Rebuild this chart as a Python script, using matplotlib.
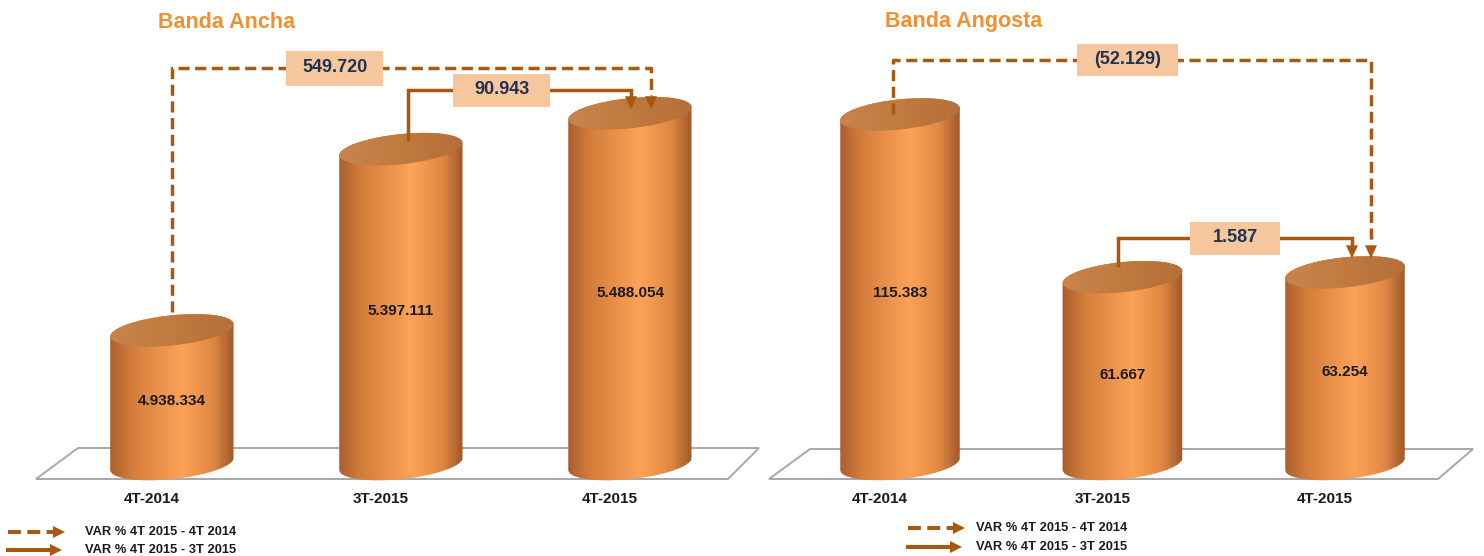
import numpy as np
import matplotlib
matplotlib.use("Agg")
import matplotlib.pyplot as plt
from matplotlib.patches import Polygon, Ellipse, Rectangle
from matplotlib.lines import Line2D
from matplotlib.transforms import IdentityTransform
from matplotlib.colors import LinearSegmentedColormap

W, H, DPI = 1484, 556, 100

# ----------------------------
# Data
# ----------------------------
categories = ["4T-2014", "3T-2015", "4T-2015"]
banda_ancha = [4938334, 5397111, 5488054]
banda_angosta = [115383, 61667, 63254]
titles = ["Banda Ancha", "Banda Angosta"]
legend_labels = ["VAR % 4T 2015 - 4T 2014", "VAR % 4T 2015 - 3T 2015"]

# ----------------------------
# Style
# ----------------------------
TITLE_COLOR = "#F0902F"
ARROW_COLOR = "#A9580F"
BOX_COLOR = "#F6C69C"
BOX_TEXT = "#1F3251"
FLOOR_EDGE = "#A8A8A8"
FONT = ["Liberation Sans", "DejaVu Sans"]
BAR_W = 0.54          # in category units
TOP_B = 15            # half minor axis of the cylinder ellipses, px
TILT = 6              # degrees
LW = 2.5

body_cmap = LinearSegmentedColormap.from_list(
    "body", [(0, "#A65A2B"), (0.18, "#D27C3A"), (0.58, "#FCA257"),
             (0.82, "#E08843"), (1, "#9A5327")])
top_cmap = LinearSegmentedColormap.from_list(
    "top", ["#C8844C", "#C07A3F", "#B46E37"])

ID = IdentityTransform()

# layout per panel (pixels, rows counted from the top of the image)
panels = [
    dict(values=banda_ancha, left=57.5, base=464, width=687, height=434,
         ymin=4.6e6, px_per_unit=395 / 1e6, title_x=227,
         floor=[(78, 448), (759, 448), (728, 479), (36, 479)],
         dashed=dict(y=68, dx0=0, dx1=21, start=18, tip=4, frac=0.34, bw=97, bh=35),
         solid=dict(y=90, dx0=7, dx1=1, start=10, tip=4, frac=0.42, bw=97, bh=33),
         legend=dict(x0=8, xt=85, y_dash=532, y_solid=550)),
    dict(values=banda_angosta, left=788.75, base=464, width=667.5, height=434,
         ymin=0, px_per_unit=3.03 / 1e3, title_x=964,
         floor=[(810, 449), (1473, 449), (1438, 479), (769, 479)],
         dashed=dict(y=60, dx0=-7, dx1=26, start=0, tip=14, frac=0.49, bw=101, bh=32),
         solid=dict(y=238, dx0=-4, dx1=7, start=12, tip=14, frac=0.5, bw=90, bh=33),
         legend=dict(x0=908, xt=976, y_dash=528, y_solid=547)),
]


def fmt(v):
    s = f"{abs(v):,}".replace(",", ".")
    return f"({s})" if v < 0 else s


def row(y):
    return H - y


def ellipse_pts(cx, cy, a, b, t):
    th = np.radians(TILT)
    x = cx + a * np.cos(t) * np.cos(th) - b * np.sin(t) * np.sin(th)
    y = cy + a * np.cos(t) * np.sin(th) + b * np.sin(t) * np.cos(th)
    return np.column_stack([x, y])


def gradient_fill(fig, clip, x0, x1, y0, y1, cmap, z, n=70):
    dx = (x1 - x0) / n
    for k in range(n):
        r = Rectangle((x0 + k * dx, y0), dx + 0.8, y1 - y0, transform=ID,
                      facecolor=cmap((k + 0.5) / n), edgecolor="none", zorder=z)
        r.set_clip_path(clip)
        fig.add_artist(r)


def draw_cylinder(fig, ax, i, v, ymin):
    cx, top = ax.transData.transform((i, v))
    _, base = ax.transData.transform((i, ymin))
    xl, _ = ax.transData.transform((i - BAR_W / 2, v))
    a = cx - xl
    b = TOP_B
    lower = ellipse_pts(cx, base, a, b, np.linspace(np.pi, 2 * np.pi, 60))
    upper = ellipse_pts(cx, top, a, b, np.linspace(0, np.pi, 60))
    body = Polygon(np.vstack([lower, upper]), closed=True, transform=ID,
                   facecolor="none", edgecolor="none")
    gradient_fill(fig, body, cx - a - 2, cx + a + 2, base - 3 * b, top + 3 * b,
                  body_cmap, 2)
    cap = Ellipse((cx, top), 2 * a, 2 * b, angle=TILT, transform=ID,
                  facecolor="none", edgecolor="none")
    gradient_fill(fig, cap, cx - a - 2, cx + a + 2, top - 2 * b, top + 3 * b,
                  top_cmap, 3, n=40)
    return cx, top, base


def draw_head(fig, x, y_tip, z=5, hl=13, hw=6, horizontal=False):
    if horizontal:
        pts = [(x - hl, y_tip + hw), (x - hl, y_tip - hw), (x, y_tip)]
    else:
        pts = [(x - hw, y_tip + hl), (x + hw, y_tip + hl), (x, y_tip)]
    fig.add_artist(Polygon(pts, closed=True, transform=ID, facecolor=ARROW_COLOR,
                           edgecolor="none", zorder=z))


def draw_connector(fig, ax, vals, i_from, i_to, spec, dashed):
    cxf, topf = ax.transData.transform((i_from, vals[i_from]))
    cxt, topt = ax.transData.transform((i_to, vals[i_to]))
    xa, ya = cxf + spec["dx0"], topf + spec["start"]
    xb, yt = cxt + spec["dx1"], topt + spec["tip"]
    yl = row(spec["y"])
    hl = 13
    ls = (0, (3.2, 1.6)) if dashed else "-"
    fig.add_artist(Line2D([xa, xa, xb, xb], [ya, yl, yl, yt + hl], transform=ID,
                          color=ARROW_COLOR, lw=LW, linestyle=ls,
                          solid_joinstyle="miter", dash_capstyle="butt", zorder=4))
    draw_head(fig, xb, yt, hl=hl)
    bx = xa + spec["frac"] * (xb - xa)
    fig.add_artist(Rectangle((bx - spec["bw"] / 2, yl - spec["bh"] / 2), spec["bw"], spec["bh"],
                             transform=ID, facecolor=BOX_COLOR, edgecolor="none", zorder=6))
    fig.text(bx, yl, fmt(vals[i_to] - vals[i_from]), transform=ID, ha="center", va="center",
             fontsize=13, fontweight="bold", color=BOX_TEXT, family=FONT, zorder=7)


fig = plt.figure(figsize=(W / DPI, H / DPI), dpi=DPI)
fig.patch.set_facecolor("white")

for p, title in zip(panels, titles):
    ax = fig.add_axes([p["left"] / W, (H - p["base"]) / H, p["width"] / W, p["height"] / H])
    ax.set_xlim(-0.5, len(categories) - 0.5)
    ax.set_ylim(p["ymin"], p["ymin"] + p["height"] / p["px_per_unit"])
    ax.axis("off")
    vals = p["values"]

    # floor
    fig.add_artist(Polygon([(x, row(y)) for x, y in p["floor"]], closed=True, transform=ID,
                           facecolor="white", edgecolor=FLOOR_EDGE, lw=1.4, zorder=1))

    for i, (cat, v) in enumerate(zip(categories, vals)):
        cx, top, base = draw_cylinder(fig, ax, i, v, p["ymin"])
        fig.text(cx, (top + base) / 2 - 4, fmt(v), transform=ID, ha="center", va="center",
                 fontsize=11, fontweight="bold", color="#1A1A1A", family=FONT, zorder=7)
        fig.text(cx - 20, row(499), cat, transform=ID, ha="center", va="center",
                 fontsize=11, fontweight="bold", color="#1A1A1A", family=FONT, zorder=7)

    draw_connector(fig, ax, vals, 0, 2, p["dashed"], dashed=True)
    draw_connector(fig, ax, vals, 1, 2, p["solid"], dashed=False)

    fig.text(p["title_x"], row(22), title, transform=ID, ha="center", va="center",
             fontsize=15.5, fontweight="bold", color=TITLE_COLOR, family=FONT)

    # legend
    lg = p["legend"]
    for y, ls, x1, lab in [(lg["y_dash"], (0, (3.2, 1.6)), lg["x0"] + 57, legend_labels[0]),
                           (lg["y_solid"], "-", lg["x0"] + 54, legend_labels[1])]:
        fig.add_artist(Line2D([lg["x0"], x1 - 12], [row(y), row(y)], transform=ID,
                              color=ARROW_COLOR, lw=LW + 0.4, linestyle=ls,
                              dash_capstyle="butt", zorder=4))
        draw_head(fig, x1, row(y), hl=12, hw=6, horizontal=True)
        fig.text(lg["xt"], row(y), lab, transform=ID, ha="left", va="center",
                 fontsize=9.3, fontweight="bold", color="#1A1A1A", family=FONT)

fig.savefig("out.png", dpi=DPI)
